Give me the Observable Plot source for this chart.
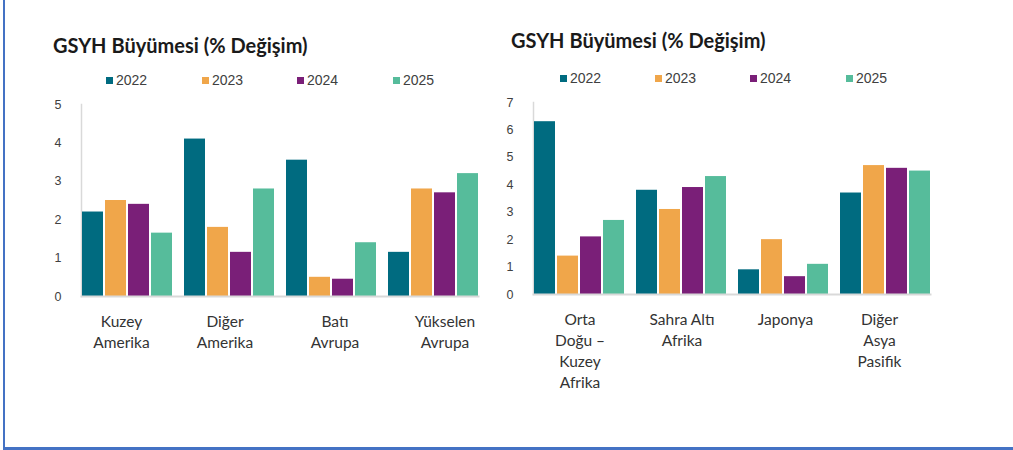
<!DOCTYPE html>
<html>
<head>
<meta charset="utf-8">
<script src="https://cdn.jsdelivr.net/npm/d3@7"></script>
<script src="https://cdn.jsdelivr.net/npm/@observablehq/plot@0.6"></script>
<style>
  html, body { margin: 0; padding: 0; background: #fff; }
  #root { position: relative; width: 1013px; height: 450px; overflow: hidden; background: #fff; }
  .frame { position: absolute; left: 3px; top: 0; width: 1010px; height: 447px; box-sizing: content-box;
           border-left: 2.5px solid #4472C4; border-bottom: 3px solid #4472C4; }
  .title { position: absolute; font-family: Lato, "Open Sans", sans-serif; font-weight: 700; font-size: 20px;
           color: #1a1a1a; white-space: nowrap; line-height: 1; }
  .legend { position: absolute; height: 16px; font-family: "Liberation Sans", Arial, sans-serif; font-size: 14px; color: #404040; }
  .legend .item { position: absolute; top: 0; display: flex; align-items: center; white-space: nowrap; }
  .legend .sw { width: 7px; height: 7px; margin-right: 3px; }
  .chart { position: absolute; top: 0; }
</style>
</head>
<body>
<div id="root">
  <div class="frame"></div>
</div>
<script>
// ---- Data ----
const years = ["2022", "2023", "2024", "2025"];
const colors = ["#006B80", "#F0A64A", "#7A1F78", "#56BC9B"];
const title = "GSYH Büyümesi (% Değişim)";

const leftCategories = ["Kuzey\nAmerika", "Diğer\nAmerika", "Batı\nAvrupa", "Yükselen\nAvrupa"];
const left2022 = [2.2, 4.1, 3.55, 1.15];
const left2023 = [2.5, 1.8, 0.5, 2.8];
const left2024 = [2.4, 1.15, 0.45, 2.7];
const left2025 = [1.65, 2.8, 1.4, 3.2];
const leftTicks = [0, 1, 2, 3, 4, 5];

const rightCategories = ["Orta\nDoğu –\nKuzey\nAfrika", "Sahra Altı\nAfrika", "Japonya", "Diğer\nAsya\nPasifik"];
const right2022 = [6.3, 3.8, 0.9, 3.7];
const right2023 = [1.4, 3.1, 2.0, 4.7];
const right2024 = [2.1, 3.9, 0.65, 4.6];
const right2025 = [2.7, 4.3, 1.1, 4.5];
const rightTicks = [0, 1, 2, 3, 4, 5, 6, 7];

function toRows(categories, series) {
  const rows = [];
  categories.forEach((c, i) => series.forEach((s, j) => rows.push({cat: c, year: years[j], value: s[i]})));
  return rows;
}

const root = document.getElementById("root");

function addText(cls, text, left, top) {
  const d = document.createElement("div");
  d.className = cls;
  d.textContent = text;
  d.style.left = left + "px";
  d.style.top = top + "px";
  root.appendChild(d);
  return d;
}

function addLegend(left, top, positions) {
  const lg = document.createElement("div");
  lg.className = "legend";
  lg.style.left = left + "px";
  lg.style.top = top + "px";
  years.forEach((y, i) => {
    const it = document.createElement("div");
    it.className = "item";
    it.style.left = positions[i] + "px";
    const sw = document.createElement("span");
    sw.className = "sw";
    sw.style.background = colors[i];
    const t = document.createElement("span");
    t.textContent = y;
    it.appendChild(sw); it.appendChild(t);
    lg.appendChild(it);
  });
  root.appendChild(lg);
}

function makeChart({categories, series, ticks, ymax, left, width, height, marginLeft, marginRight, marginTop, marginBottom, labelShift}) {
  const data = toRows(categories, series);
  const labelAxes = categories.map((c, i) =>
    Plot.axisFx({ticks: [c], anchor: "bottom", tickSize: 0, tickPadding: 16, dx: labelShift[i],
                 fontSize: 15.5, lineHeight: 1.34, fill: "#333",
                 fontFamily: "Lato, 'Open Sans', sans-serif", label: null}));
  const chart = Plot.plot({
    width, height, marginLeft, marginRight, marginTop, marginBottom,
    style: {background: "transparent", overflow: "visible"},
    fx: {domain: categories, paddingInner: 0.104, paddingOuter: 0.05, label: null},
    x: {domain: years, paddingInner: 0.1, paddingOuter: 0, axis: null},
    y: {domain: [0, ymax], label: null},
    color: {domain: years, range: colors},
    marks: [
      Plot.frame({anchor: "left", facet: "super", stroke: "#d9d9d9", strokeWidth: 1.5}),
      Plot.barY(data, {fx: "cat", x: "year", y: "value", fill: "year"}),
      Plot.frame({anchor: "bottom", facet: "super", stroke: "#d9d9d9", strokeWidth: 2}),
      Plot.axisY({ticks, tickFormat: d3.format("d"), tickSize: 0, tickPadding: 20, fontSize: 12.5,
                  fill: "#404040", stroke: "#404040", strokeWidth: 0.3,
                  fontFamily: "Liberation Sans, Arial, sans-serif", label: null}),
      ...labelAxes
    ]
  });
  chart.classList.add("chart");
  chart.style.left = left + "px";
  chart.style.top = "0px";
  root.appendChild(chart);
}

// Left panel
addText("title", title, 53, 35);
addLegend(0, 72, [106, 202, 297, 393]);
makeChart({categories: leftCategories, series: [left2022, left2023, left2024, left2025],
           ticks: leftTicks, ymax: 5, left: 0, width: 495, height: 400,
           marginLeft: 74, marginRight: 10, marginTop: 104, marginBottom: 104,
           labelShift: [-5.5, -4, 4, 12]});

// Right panel
addText("title", title, 511, 30);
addLegend(0, 70, [560, 655, 750, 846]);
makeChart({categories: rightCategories, series: [right2022, right2023, right2024, right2025],
           ticks: rightTicks, ymax: 7, left: 490, width: 460, height: 400,
           marginLeft: 37, marginRight: 13, marginTop: 102, marginBottom: 106,
           labelShift: [1, 1, 2.5, -5.5]});
</script>
</body>
</html>
